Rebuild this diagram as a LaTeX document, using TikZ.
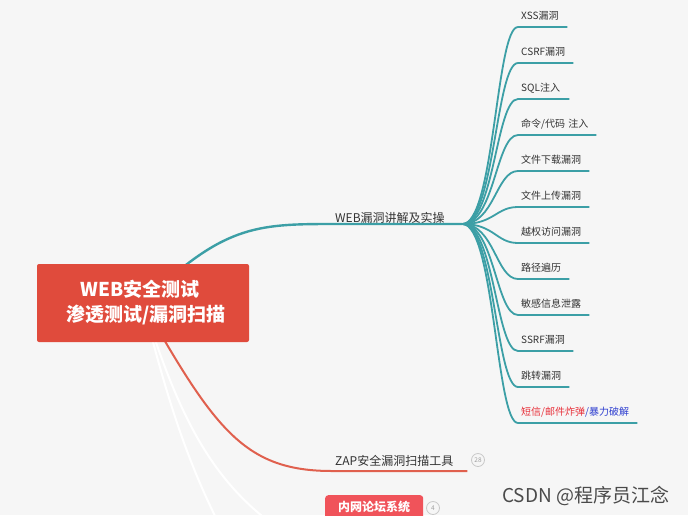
\documentclass[tikz,border=0pt]{standalone}
\usepackage{fontspec}
\setmainfont{Noto Sans CJK SC}
\usetikzlibrary{calc}
\definecolor{bg}{HTML}{F6F6F6}
\definecolor{tealline}{HTML}{3C9FA6}
\definecolor{redline}{HTML}{E0604E}
\definecolor{rootred}{HTML}{E04B3C}
\definecolor{boxred}{HTML}{F0535A}
\definecolor{leaftext}{HTML}{333333}
\definecolor{hotred}{HTML}{E8303A}
\definecolor{hotblue}{HTML}{2F3FD0}
\definecolor{badgegray}{HTML}{C8C8C8}
\definecolor{marktext}{HTML}{4A4A4A}
\tikzset{
  leaf/.style={anchor=south west, inner xsep=3pt, inner ysep=0pt, text height=8pt, text depth=7pt,
    align=left, font=\fontsize{10}{12}\selectfont, text=leaftext},
  branch/.style={anchor=south west, inner xsep=3pt, inner ysep=0pt, text height=9pt,
    align=left, font=\fontsize{12}{14}\selectfont, text=leaftext},
  fanline/.style={draw=tealline, line width=1.8pt},
  mainteal/.style={draw=tealline, line width=2.4pt},
  mainred/.style={draw=redline, line width=2pt},
  whiteline/.style={draw=white, line width=2pt},
  badge/.style={circle, draw=badgegray, line width=0.8pt, minimum size=13pt, inner sep=0pt,
    font=\fontsize{6.5}{7}\selectfont, text=badgegray!80!black}
}
\begin{document}
\begin{tikzpicture}[x=1pt,y=-1pt]
\useasboundingbox (0,0) rectangle (688,515);
\clip (0,0) rectangle (688,515);
\fill[bg] (0,0) rectangle (688,515);

% nodes (text)
\coordinate (rootc) at (143,303);
\node[branch, text width=124pt] (web) at (332,224) {WEB漏洞讲解及实操};
\node[branch, text width=129pt, text depth=5.5pt] (zap) at (332,471) {ZAP安全漏洞扫描工具};

\node[leaf, text width=43pt] (l1) at (518,27) {XSS漏洞};
\node[leaf, text width=49pt] (l2) at (518,63) {CSRF漏洞};
\node[leaf, text width=45pt] (l3) at (518,99) {SQL注入};
\node[leaf, text width=72pt] (l4) at (518,135) {命令/代码 注入};
\node[leaf, text width=65pt] (l5) at (518,171) {文件下载漏洞};
\node[leaf, text width=65pt] (l6) at (518,207) {文件上传漏洞};
\node[leaf, text width=65pt] (l7) at (518,243) {越权访问漏洞};
\node[leaf, text width=45pt] (l8) at (518,279) {路径遍历};
\node[leaf, text width=65pt] (l9) at (518,315) {敏感信息泄露};
\node[leaf, text width=49pt] (l10) at (518,351) {SSRF漏洞};
\node[leaf, text width=45pt] (l11) at (518,387) {跳转漏洞};
\node[leaf, text width=113pt] (l12) at (518,423) {\textcolor{hotred}{短信/邮件炸弹}\textcolor{hotblue}{/暴力破解}};

% connectors from the root (drawn below the root box)
\coordinate (w1end) at (230,545);
\coordinate (w2end) at (305,545);
\draw[whiteline] (rootc) .. controls (172,420) and (195,480) .. (w1end);
\draw[whiteline] (rootc) .. controls (180,420) and (215,495) .. (w2end);
\draw[mainteal] (rootc) .. controls (222,226) and (255,224) .. (web.south west) -- (web.south east);
\draw[mainred] (rootc) .. controls (215,430) and (245,471) .. (zap.south west) -- (zap.south east);

% fan of leaves
\coordinate (fan) at (web.south east);
\foreach \n in {l1,l2,l3,l4,l5,l6,l7,l8,l9,l10,l11,l12}{
  \draw[fanline] (fan) .. controls ($(fan)+(32,0)$) and ($(\n.south west)+(-22,0)$) .. (\n.south west) -- (\n.south east);
}

% root box
\node[fill=rootred, minimum width=212pt, minimum height=78pt, rounded corners=2pt, align=center,
  text=white, font=\fontsize{19}{25}\selectfont\bfseries] (root) at (rootc)
  {WEB安全测试\hspace*{0.3em}\\\hspace*{0.3em}渗透测试/漏洞扫描};

% badges
\node[badge] (b28) at (478,460) {28};
\node[fill=boxred, anchor=north west, minimum width=98pt, minimum height=24pt, rounded corners=3pt,
  text=white, font=\fontsize{12}{14}\selectfont\bfseries] (intra) at (325,495) {内网论坛系统};
\node[badge] (b4) at (433,508) {4};

% watermark
\node[anchor=west, inner sep=0pt, text=marktext, font=\fontsize{19}{22}\selectfont] (mark) at (502,496) {CSDN @程序员江念};
\end{tikzpicture}
\end{document}
